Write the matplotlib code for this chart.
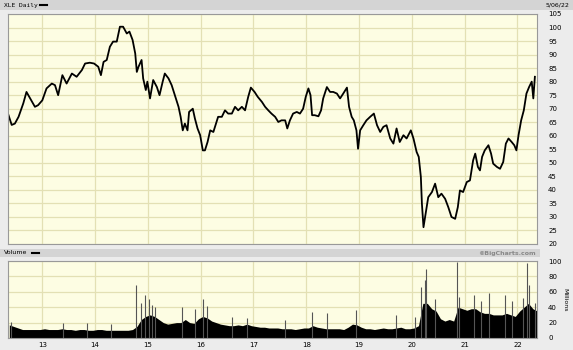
#!/usr/bin/env python

import numpy as np
import matplotlib.pyplot as plt
from matplotlib.patches import Rectangle

# daily close (fractional year, price)
t_price = [12.35, 12.42, 12.48, 12.55, 12.64, 12.70, 12.77, 12.86, 12.92, 13.00,
           13.08, 13.18, 13.24, 13.30, 13.38, 13.46, 13.56, 13.65, 13.75, 13.81,
           13.90, 13.98, 14.06, 14.11, 14.16, 14.22, 14.28, 14.34, 14.41, 14.47,
           14.53, 14.60, 14.65, 14.71, 14.76, 14.79, 14.82, 14.88, 14.91, 14.96,
           14.99, 15.04, 15.10, 15.17, 15.22, 15.28, 15.32, 15.39, 15.45, 15.51,
           15.58, 15.62, 15.66, 15.70, 15.75, 15.78, 15.85, 15.89, 15.94, 15.99,
           16.04, 16.08, 16.13, 16.18, 16.24, 16.29, 16.33, 16.40, 16.46, 16.52,
           16.59, 16.65, 16.71, 16.78, 16.84, 16.90, 16.95, 17.02, 17.08, 17.16,
           17.22, 17.28, 17.34, 17.41, 17.47, 17.53, 17.60, 17.64, 17.69, 17.75,
           17.82, 17.88, 17.94, 17.99, 18.04, 18.08, 18.11, 18.16, 18.23, 18.28,
           18.32, 18.34, 18.39, 18.45, 18.51, 18.58, 18.64, 18.70, 18.77, 18.81,
           18.86, 18.90, 18.95, 18.98, 19.02, 19.08, 19.14, 19.21, 19.28, 19.34,
           19.40, 19.46, 19.52, 19.59, 19.65, 19.71, 19.77, 19.84, 19.90, 19.98,
           20.03, 20.09, 20.13, 20.17, 20.19, 20.22, 20.27, 20.31, 20.38, 20.44,
           20.50, 20.56, 20.63, 20.69, 20.75, 20.82, 20.87, 20.91, 20.97, 21.04,
           21.10, 21.16, 21.20, 21.25, 21.29, 21.33, 21.38, 21.45, 21.50, 21.54,
           21.61, 21.67, 21.73, 21.78, 21.83, 21.89, 21.94, 21.98, 22.02, 22.07,
           22.12, 22.17, 22.22, 22.27, 22.30, 22.33]
price = [68.2, 64.0, 64.5, 67.0, 72.0, 76.2, 73.8, 70.7, 71.3, 73.1,
         77.5, 79.3, 78.7, 75.0, 82.4, 79.3, 83.0, 81.8, 84.3, 86.7,
         87.0, 86.7, 85.5, 82.4, 87.3, 88.0, 92.9, 94.8, 94.8, 100.3,
         100.3, 97.8, 98.5, 95.4, 90.4, 83.6, 85.4, 88.0, 81.2, 76.9,
         80.0, 73.8, 80.6, 78.0, 75.0, 80.0, 83.0, 81.2, 78.7, 75.0,
         70.7, 67.0, 62.0, 64.5, 62.0, 68.8, 70.0, 66.4, 62.7, 60.2,
         54.6, 54.6, 57.7, 62.0, 61.4, 64.5, 67.0, 67.0, 69.4, 68.2,
         68.2, 70.7, 69.4, 70.7, 69.4, 74.4, 77.8, 76.2, 74.4, 72.5,
         70.7, 69.4, 68.2, 67.0, 65.1, 65.7, 65.7, 62.7, 65.7, 68.2,
         68.8, 68.2, 70.0, 74.4, 77.5, 75.0, 67.6, 67.6, 67.2, 69.4,
         73.8, 75.0, 78.0, 76.2, 76.2, 75.6, 73.8, 75.6, 77.8, 70.7,
         67.0, 65.7, 62.0, 55.2, 62.0, 63.9, 65.7, 67.0, 68.2, 63.9,
         61.4, 63.3, 63.9, 59.0, 57.1, 62.7, 57.7, 60.2, 59.0, 62.0,
         59.0, 54.0, 52.2, 44.8, 34.9, 26.2, 32.4, 37.3, 39.2, 42.3,
         37.3, 38.6, 36.7, 33.6, 30.0, 29.3, 33.6, 39.8, 39.2, 42.9,
         43.5, 50.9, 53.4, 48.5, 47.2, 52.2, 54.6, 56.5, 53.4, 49.7,
         48.5, 47.8, 50.3, 57.1, 59.0, 57.7, 56.5, 54.6, 60.2, 65.7,
         69.4, 75.6, 78.0, 80.0, 73.8, 81.8]

# monthly base volume (millions), May 2012 .. May 2022
vol_2012 = [17, 15, 13, 11, 11, 11, 11, 11]
vol_2013 = [12, 11, 11, 11, 12, 11, 11, 10, 11, 11, 10, 10]
vol_2014 = [11, 11, 10, 10, 10, 10, 10, 10, 11, 15, 24, 28]
vol_2015 = [30, 28, 24, 20, 18, 19, 20, 20, 24, 20, 19, 25]
vol_2016 = [28, 26, 22, 20, 18, 17, 16, 16, 17, 16, 18, 16]
vol_2017 = [15, 14, 14, 13, 13, 13, 12, 12, 12, 11, 12, 13]
vol_2018 = [13, 16, 14, 13, 12, 12, 12, 12, 11, 14, 18, 17]
vol_2019 = [14, 12, 12, 11, 12, 13, 12, 12, 13, 14, 12, 12]
vol_2020 = [13, 16, 45, 45, 38, 35, 25, 22, 24, 22, 40, 38]
vol_2021 = [36, 38, 38, 34, 32, 32, 30, 30, 30, 32, 30, 28]
vol_2022 = [35, 40, 45, 38, 35]

# single-day volume spikes (fractional year, millions)
spike_t = [12.40, 13.40, 13.85, 14.30, 14.78, 14.86, 14.95, 15.02, 15.07, 15.14,
           15.65, 15.89, 16.04, 16.12, 16.60, 16.87, 17.60, 18.11, 18.40, 18.95,
           19.70, 20.05, 20.18, 20.24, 20.27, 20.43, 20.85, 20.90, 21.17, 21.30,
           21.46, 21.77, 21.90, 22.10, 22.18, 22.22, 22.33]
spike_v = [21, 19, 19, 18, 69, 45, 56, 51, 43, 40,
           40, 38, 51, 42, 27, 26, 23, 34, 32, 36,
           30, 27, 66, 75, 90, 51, 99, 53, 56, 48,
           58, 56, 48, 52, 97, 69, 45]

year_ticks = [13, 14, 15, 16, 17, 18, 19, 20, 21, 22]
price_ticks = list(range(20, 110, 5))
vol_ticks = [0, 20, 40, 60, 80, 100]

volume = vol_2012 + vol_2013 + vol_2014 + vol_2015 + vol_2016 + vol_2017 + \
    vol_2018 + vol_2019 + vol_2020 + vol_2021 + vol_2022
t_vol = 12 + (np.arange(len(volume)) + 4.5) / 12

bg = '#fdfde3'
gridc = '#e3e0b4'
fig = plt.figure(figsize=(5.73, 3.5), dpi=100)
fig.patch.set_facecolor('#ececec')

# header bands
fig.add_artist(Rectangle((0, 1 - 10 / 350), 1, 10 / 350, transform=fig.transFigure,
                         facecolor='#d4d4d4', edgecolor='none'))
fig.add_artist(Rectangle((0, 1 - 257 / 350), 540 / 573, 8 / 350, transform=fig.transFigure,
                         facecolor='#d4d4d4', edgecolor='none'))
fig.text(4 / 573, 1 - 5 / 350, 'XLE Daily', fontsize=4.5, va='center', family='DejaVu Sans Mono')
fig.add_artist(plt.Line2D([40 / 573, 47 / 573], [1 - 5 / 350] * 2, color='black', lw=1.5))
fig.text(569 / 573, 1 - 5 / 350, '5/06/22', fontsize=4.5, va='center', ha='right')
fig.text(4 / 573, 1 - 253 / 350, 'Volume', fontsize=4.5, va='center')
fig.add_artist(plt.Line2D([32 / 573, 39 / 573], [1 - 253 / 350] * 2, color='black', lw=1.5))
fig.text(536 / 573, 1 - 253 / 350, '\u00a9BigCharts.com', fontsize=4.5, va='center',
         ha='right', color='#888888', weight='bold')

ax = fig.add_axes([8 / 573, 1 - 244 / 350, 529 / 573, 230 / 350])
ax.set_facecolor(bg)
ax.plot(t_price, price, color='black', lw=1.3)
ax.set_xlim(12.35, 22.37)
ax.set_ylim(20, 105)
ax.set_yticks(price_ticks)
ax.set_xticks(year_ticks)
ax.grid(color=gridc, lw=0.9)
ax.set_axisbelow(True)
ax.yaxis.tick_right()
ax.tick_params(axis='y', length=0, labelsize=5, pad=8)
ax.tick_params(axis='x', length=0, labelbottom=False)
for s in ax.spines.values():
    s.set_color('#999999')
    s.set_linewidth(0.8)

axv = fig.add_axes([8 / 573, 1 - 338 / 350, 529 / 573, 77 / 350])
axv.set_facecolor(bg)
axv.fill_between(t_vol, volume, color='black', lw=0)
axv.vlines(spike_t, 0, spike_v, color='#555555', lw=0.8)
axv.set_xlim(12.35, 22.37)
axv.set_ylim(0, 100)
axv.set_yticks(vol_ticks)
axv.set_xticks(year_ticks)
axv.set_xticklabels([str(y) for y in year_ticks])
axv.grid(color=gridc, lw=0.9)
axv.set_axisbelow(True)
axv.yaxis.tick_right()
axv.tick_params(axis='y', length=0, labelsize=5, pad=8)
axv.tick_params(axis='x', length=0, labelsize=5, pad=3)
for s in axv.spines.values():
    s.set_color('#999999')
    s.set_linewidth(0.8)
fig.text(565 / 573, 1 - 300 / 350, 'Millions', fontsize=4.5, rotation=270,
         va='center', ha='center')

plt.savefig('out.png', dpi=100)
